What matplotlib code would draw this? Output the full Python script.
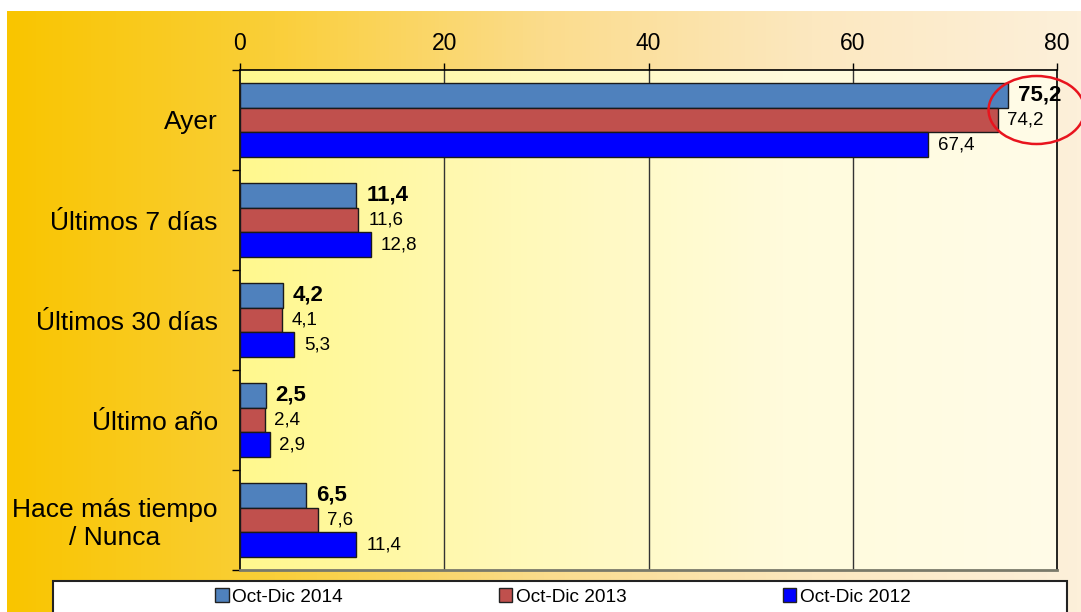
import numpy as np
import matplotlib
matplotlib.use("Agg")
import matplotlib.pyplot as plt
from matplotlib.colors import LinearSegmentedColormap
from matplotlib.patches import Ellipse, Rectangle, Patch

plt.rcParams['font.family'] = ['Liberation Sans', 'DejaVu Sans']

#----------------------------------------------------------------------------------------------------------------------------------
# data

categories = ['Ayer', 'Últimos 7 días', 'Últimos 30 días', 'Último año', 'Hace más tiempo\n/ Nunca']
series_names = ['Oct-Dic 2014', 'Oct-Dic 2013', 'Oct-Dic 2012']
values_2014 = [75.2, 11.4, 4.2, 2.5, 6.5]
values_2013 = [74.2, 11.6, 4.1, 2.4, 7.6]
values_2012 = [67.4, 12.8, 5.3, 2.9, 11.4]
x_ticks = [0, 20, 40, 60, 80]

series = [values_2014, values_2013, values_2012]
colors = ['#4F81BD', '#C0504D', '#0000FF']
W, H = 1081, 612

#----------------------------------------------------------------------------------------------------------------------------------

fig = plt.figure(figsize=(W / 100, H / 100), dpi=100)

# outer gradient background
bg = fig.add_axes([0, 0, 1, 1])
bg.set_xlim(0, W)
bg.set_ylim(H, 0)
bg.axis('off')
outer_cmap = LinearSegmentedColormap.from_list('outer', ['#F9C500', '#FACF3A', '#FBDC8C', '#FCE8C0', '#FDF0DA'])
grad = np.linspace(0, 1, 256).reshape(1, -1)
bg.imshow(grad, cmap=outer_cmap, aspect='auto', extent=[7, W, H, 11], zorder=0)

# main axes
ax = fig.add_axes([240 / W, 1 - 570 / H, 817 / W, 500 / H])
ax.set_xlim(0, 80)
ax.set_ylim(4.5, -0.5)
inner_cmap = LinearSegmentedColormap.from_list('inner', ['#FFF88E', '#FFF9B8', '#FFFBDC', '#FFFCE8'])
ax.imshow(grad, cmap=inner_cmap, aspect='auto', extent=[0, 80, 4.5, -0.5], zorder=0)

y = np.arange(len(categories))
bar_h = 0.245
offsets = [-0.245, 0, 0.245]
for i, vals in enumerate(series):
    ax.barh(y + offsets[i], vals, height=bar_h, color=colors[i], edgecolor='#1a1a1a',
            linewidth=1.0, zorder=3, label=series_names[i])
    for yy, v in zip(y + offsets[i], vals):
        txt = f'{v:.1f}'.replace('.', ',')
        if i == 0:
            ax.annotate(txt, (v, yy), xytext=(7, 0), textcoords='offset points',
                        va='center', ha='left', fontsize=16, fontweight='bold', zorder=4)
        else:
            ax.annotate(txt, (v, yy), xytext=(7, 0), textcoords='offset points',
                        va='center', ha='left', fontsize=13.5, zorder=4)

# grid lines
for gx in x_ticks[1:-1]:
    ax.axvline(gx, color='#333333', linewidth=1.0, zorder=1)

ax.xaxis.tick_top()
ax.set_xticks(x_ticks)
ax.set_xticklabels([str(t) for t in x_ticks], fontsize=16.5)
ax.tick_params(axis='x', direction='out', length=5, width=1, pad=6, color='black')

ax.set_yticks(y)
ax.set_yticklabels(categories, fontsize=19)
for lab in ax.get_yticklabels():
    lab.set_multialignment('center')
ax.set_yticks(np.arange(-0.5, 5, 1), minor=True)
ax.tick_params(axis='y', which='major', length=0, pad=16)
ax.tick_params(axis='y', which='minor', direction='out', length=6, width=1, color='black')

for s in ['top', 'left', 'right']:
    ax.spines[s].set_color('black')
    ax.spines[s].set_linewidth(1.2)
ax.spines['bottom'].set_color('#7a7a6a')
ax.spines['bottom'].set_linewidth(2)

# red ellipse highlighting the top value
ax.add_patch(Ellipse((78.0, -0.1), width=9.4, height=0.68, fill=False,
                     edgecolor='#E8141E', linewidth=1.8, clip_on=False, zorder=5))

# legend box
bg.add_patch(Rectangle((53, 581), 1014, 40, facecolor='white', edgecolor='#222222',
                       linewidth=1.5, zorder=2))
handles = [Patch(facecolor=c, edgecolor='#222222', linewidth=1.0) for c in colors]
fig.legend(handles, series_names, loc='center', bbox_to_anchor=(563 / W, 1 - 597 / H),
           ncol=3, frameon=False, fontsize=13.7, handlelength=0.7, handleheight=0.7,
           handletextpad=0.2, columnspacing=8.2)

fig.savefig('out.png', dpi=100)
